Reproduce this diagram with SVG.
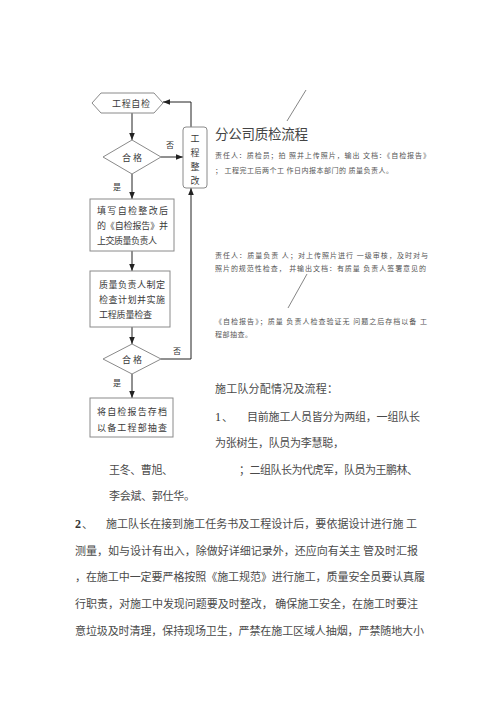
<svg xmlns="http://www.w3.org/2000/svg" width="500" height="708" viewBox="0 0 500 708">
<style>
.nd{fill:#fff;stroke:#8a8a8a;stroke-width:1}
.ft{font-family:"Noto Sans CJK SC","Liberation Serif",serif;font-size:9px;fill:#3a3a3a}
.lb{font-family:"Noto Sans CJK SC","Liberation Serif",serif;font-size:8px;fill:#333}
.cn{stroke:#222;stroke-width:1;fill:none}
.sm{font-family:"Noto Sans CJK SC","Liberation Sans",sans-serif;font-size:7px;fill:#555}
.bd{font-family:"Noto Sans CJK SC","Liberation Sans",sans-serif;font-size:11px;fill:#4a4a4a}
.num{font-family:"Liberation Serif",serif;font-size:12px;fill:#333}
.sl{stroke:#666;stroke-width:0.8}
</style>
<defs>
<marker id="ah" viewBox="0 0 10 10" refX="10" refY="5" markerWidth="7" markerHeight="7" orient="auto" markerUnits="userSpaceOnUse">
<path d="M0,1 L10,5 L0,9 Z" fill="#222"/>
</marker>
</defs>
<rect width="500" height="708" fill="#fff"/>

<g id="connectors">
<line class="cn" x1="132" y1="113" x2="132" y2="140" marker-end="url(#ah)"/>
<line class="cn" x1="161" y1="157" x2="183" y2="157" marker-end="url(#ah)"/>
<polyline class="cn" points="191,127 191,102 163,102" marker-end="url(#ah)"/>
<line class="cn" x1="132" y1="174" x2="132" y2="199" marker-end="url(#ah)"/>
<line class="cn" x1="132" y1="251" x2="132" y2="271" marker-end="url(#ah)"/>
<line class="cn" x1="132" y1="327" x2="132" y2="344" marker-end="url(#ah)"/>
<polyline class="cn" points="161,359 191,359 191,188" marker-end="url(#ah)"/>
<line class="cn" x1="132" y1="374" x2="132" y2="398" marker-end="url(#ah)"/>
<text class="lb" x="170" y="148" text-anchor="middle">否</text>
<text class="lb" x="117" y="190" text-anchor="middle">是</text>
<text class="lb" x="177" y="354" text-anchor="middle">否</text>
<text class="lb" x="117" y="386" text-anchor="middle">是</text>
</g>

<g id="n-self-check">
<polygon class="nd" points="92,103 101,93 154,93 163,103 154,113 101,113"/>
<text class="ft" x="131" y="106.5" text-anchor="middle" textLength="38" lengthAdjust="spacing">工程自检</text>
</g>

<g id="n-pass1">
<polygon class="nd" points="132,140 161,157 132,174 103,157"/>
<text class="ft" x="132" y="160.5" text-anchor="middle">合 格</text>
</g>

<g id="n-rectify">
<rect class="nd" x="183" y="127" width="24" height="61" rx="3"/>
<text class="ft" x="195" y="141.5" text-anchor="middle">工</text>
<text class="ft" x="195" y="155.5" text-anchor="middle">程</text>
<text class="ft" x="195" y="169.5" text-anchor="middle">整</text>
<text class="ft" x="195" y="183.5" text-anchor="middle">改</text>
</g>

<g id="n-report">
<rect class="nd" x="90" y="199" width="84" height="52"/>
<text class="ft" x="97" y="213.5" textLength="71" lengthAdjust="spacing">填写自检整改后</text>
<text class="ft" x="97" y="228.5" textLength="71" lengthAdjust="spacing">的《自检报告》并</text>
<text class="ft" x="97" y="243.5" textLength="60" lengthAdjust="spacing">上交质量负责人</text>
</g>

<g id="n-plan">
<rect class="nd" x="90" y="271" width="80" height="56"/>
<text class="ft" x="99" y="287.5" textLength="66" lengthAdjust="spacing">质量负责人制定</text>
<text class="ft" x="99" y="302.5" textLength="66" lengthAdjust="spacing">检查计划并实施</text>
<text class="ft" x="99" y="317.5" textLength="53" lengthAdjust="spacing">工程质量检查</text>
</g>

<g id="n-pass2">
<polygon class="nd" points="132,344 161,359 132,374 103,359"/>
<text class="ft" x="132" y="362.5" text-anchor="middle">合 格</text>
</g>

<g id="n-archive">
<rect class="nd" x="90" y="398" width="83" height="39"/>
<text class="ft" x="97" y="414.5" textLength="70" lengthAdjust="spacing">将自检报告存档</text>
<text class="ft" x="97" y="430.5" textLength="70" lengthAdjust="spacing">以备工程部抽查</text>
</g>

<g id="notes">
<line class="sl" x1="306" y1="90" x2="287" y2="121"/>
<text x="215" y="139" font-family="Noto Sans CJK SC, Liberation Sans, sans-serif" font-size="13.5" fill="#444" textLength="93" lengthAdjust="spacing">分公司质检流程</text>
<text class="sm" x="215" y="157.5" textLength="215" lengthAdjust="spacing">责任人：质检员；拍 照并上传照片，输出 文档：《自检报告》</text>
<text class="sm" x="215" y="173" textLength="178" lengthAdjust="spacing">； 工程完工后两个工 作日内报本部门的 质量负责人。</text>
<text class="sm" x="215" y="257.5" textLength="213" lengthAdjust="spacing">责任人：质量负责 人；对上传照片进行 一级审核，及时对与</text>
<text class="sm" x="215" y="270.5" textLength="211" lengthAdjust="spacing">照片的规范性检查， 并输出文档：有质量 负责人签署意见的</text>
<line class="sl" x1="307" y1="274" x2="288" y2="308"/>
<text class="sm" x="215" y="323.5" textLength="212" lengthAdjust="spacing">《自检报告》；质量 负责人检查验证无 问题之后存档以备 工</text>
<text class="sm" x="215" y="336.5" textLength="37" lengthAdjust="spacing">程部抽查。</text>
</g>

<g id="body-text">
<text class="bd" x="215" y="393" textLength="123" lengthAdjust="spacing">施工队分配情况及流程：</text>
<text class="num" x="215" y="421">1</text><text class="bd" x="222" y="421">、</text>
<text class="bd" x="247" y="421" textLength="173" lengthAdjust="spacing">目前施工人员皆分为两组，一组队长</text>
<text class="bd" x="215" y="447" textLength="129" lengthAdjust="spacing">为张树生，队员为李慧聪，</text>
<text class="bd" x="109" y="474" textLength="64" lengthAdjust="spacing">王冬、曹旭、</text>
<text class="bd" x="239" y="474" textLength="179" lengthAdjust="spacing">；二组队长为代虎军，队员为王鹏林、</text>
<text class="bd" x="109" y="500" textLength="86" lengthAdjust="spacing">李会斌、郭仕华。</text>
<text class="num" x="75" y="528" font-weight="bold">2</text><text class="bd" x="82" y="528">、</text>
<text class="bd" x="106" y="528" textLength="311" lengthAdjust="spacing">施工队长在接到施工任务书及工程设计后，要依据设计进行施 工</text>
<text class="bd" x="75" y="555" textLength="343" lengthAdjust="spacing">测量，如与设计有出入，除做好详细记录外，还应向有关主 管及时汇报</text>
<text class="bd" x="75" y="581" textLength="350" lengthAdjust="spacing">，在施工中一定要严格按照《施工规范》进行施工，质量安全员要认真履</text>
<text class="bd" x="75" y="608" textLength="343" lengthAdjust="spacing">行职责，对施工中发现问题要及时整改， 确保施工安全，在施工时要注</text>
<text class="bd" x="75" y="635" textLength="349" lengthAdjust="spacing">意垃圾及时清理，保持现场卫生，严禁在施工区域人抽烟，严禁随地大小</text>
</g>
</svg>
